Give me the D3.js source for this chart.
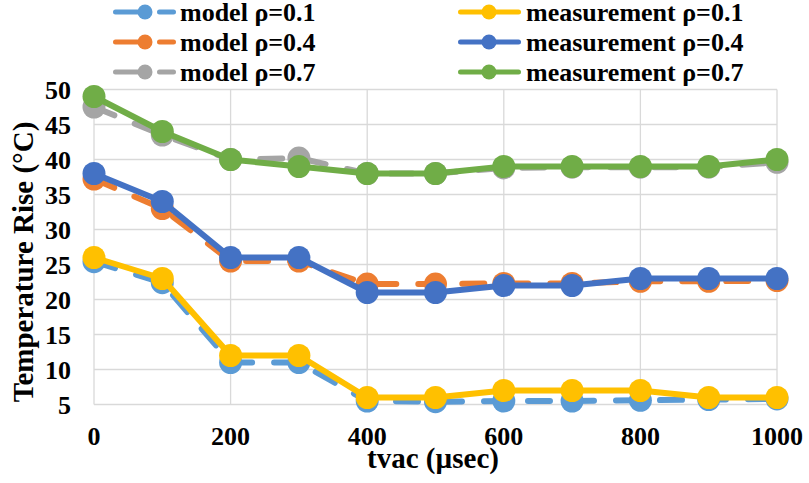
<!DOCTYPE html>
<html>
<head>
<meta charset="utf-8">
<script src="https://cdn.jsdelivr.net/npm/d3@7"></script>
<style>
  body { margin: 0; background: #fff; }
  svg text { font-family: "Liberation Serif", "Times New Roman", serif; font-weight: bold; fill: #000; }
</style>
</head>
<body>
<svg id="chart" width="809" height="483"></svg>
<script>
// values
const tvac = [0, 100, 200, 300, 400, 500, 600, 700, 800, 900, 1000];
const model01 = [25.4, 22.4, 11, 11, 5.5, 5.4, 5.5, 5.5, 5.6, 5.7, 5.8];
const meas01 = [26, 23, 12, 12, 6, 6, 7, 7, 7, 6, 6];
const model04 = [37.2, 33, 25.5, 25.5, 22.2, 22.2, 22.3, 22.3, 22.6, 22.6, 22.7];
const meas04 = [38, 34, 26, 26, 21, 21, 22, 22, 23, 23, 23];
const model07 = [47.5, 43.5, 40, 40.2, 38, 38, 38.8, 38.9, 38.9, 38.9, 39.6];
const meas07 = [49, 44, 40, 39, 38, 38, 39, 39, 39, 39, 40];

const xTicks = [0, 200, 400, 600, 800, 1000];
const yTicks = [5, 10, 15, 20, 25, 30, 35, 40, 45, 50];

const seriesNames = ['model ρ=0.1', 'measurement ρ=0.1', 'model ρ=0.4', 'measurement ρ=0.4', 'model ρ=0.7', 'measurement ρ=0.7'];
const seriesValues = [model01, meas01, model04, meas04, model07, meas07];
const seriesColors = ['#5B9BD5', '#FFC000', '#ED7D31', '#4472C4', '#A5A5A5', '#70AD47'];
const seriesDashed = [true, false, true, false, true, false];

const svg = d3.select('#chart');

let x = d3.scaleLinear().domain([0, 1000]).range([94, 777]);
let y = d3.scaleLinear().domain([5, 50]).range([404.5, 89.5]);

// gridlines
svg.append('g')
  .selectAll('line')
  .data(yTicks)
  .join('line')
  .attr('x1', x(0)).attr('x2', x(1000))
  .attr('y1', d => y(d)).attr('y2', d => y(d))
  .style('stroke', '#d9d9d9').style('stroke-width', 1.3);

svg.append('g')
  .selectAll('line')
  .data(xTicks)
  .join('line')
  .attr('x1', d => x(d)).attr('x2', d => x(d))
  .attr('y1', y(5)).attr('y2', y(50))
  .style('stroke', '#d9d9d9').style('stroke-width', 1.3);

// tick labels
svg.append('g')
  .selectAll('text')
  .data(yTicks)
  .join('text')
  .attr('x', 71)
  .attr('y', d => y(d) + 9)
  .attr('text-anchor', 'end')
  .style('font-size', '26px')
  .text(d => d);

svg.append('g')
  .selectAll('text')
  .data(xTicks)
  .join('text')
  .attr('x', d => x(d))
  .attr('y', 445)
  .attr('text-anchor', 'middle')
  .style('font-size', '26px')
  .text(d => d);

// axis titles
svg.append('text')
  .attr('x', 433).attr('y', 468)
  .attr('text-anchor', 'middle')
  .style('font-size', '29px')
  .text('tvac (µsec)');

svg.append('text')
  .attr('transform', 'translate(33,262) rotate(-90)')
  .attr('text-anchor', 'middle')
  .style('font-size', '29px')
  .text('Temperature Rise (°C)');

// series
let line = d3.line().x((d, i) => x(tvac[i])).y(d => y(d));

seriesValues.forEach((vals, k) => {
  let g = svg.append('g');
  g.append('path')
    .datum(vals)
    .attr('d', line)
    .style('fill', 'none')
    .style('stroke', seriesColors[k])
    .style('stroke-width', 6)
    .style('stroke-linejoin', 'round')
    .style('stroke-linecap', 'round')
    .style('stroke-dasharray', seriesDashed[k] ? '22 22' : null);
  g.selectAll('circle')
    .data(vals)
    .join('circle')
    .attr('cx', (d, i) => x(tvac[i]))
    .attr('cy', d => y(d))
    .attr('r', 11.5)
    .style('fill', seriesColors[k]);
});

// legend, two columns filled row by row
let legendX = [115.5, 460.5];
let legendRowY = [12, 42, 72];

seriesNames.forEach((name, k) => {
  let col = k % 2;
  let row = Math.floor(k / 2);
  let lx = legendX[col];
  let ly = legendRowY[row];
  let g = svg.append('g');
  g.append('line')
    .attr('x1', lx).attr('x2', lx + 58)
    .attr('y1', ly).attr('y2', ly)
    .style('stroke', seriesColors[k])
    .style('stroke-width', 5)
    .style('stroke-linecap', 'round')
    .style('stroke-dasharray', seriesDashed[k] ? '22 22' : null);
  g.append('circle')
    .attr('cx', lx + (col == 0 ? 29.5 : 28.5))
    .attr('cy', ly)
    .attr('r', 7.5)
    .style('fill', seriesColors[k]);
  g.append('text')
    .attr('x', lx + (col == 0 ? 64.5 : 65.5))
    .attr('y', ly + 8.5)
    .style('font-size', '26px')
    .text(name);
});
</script>
</body>
</html>
